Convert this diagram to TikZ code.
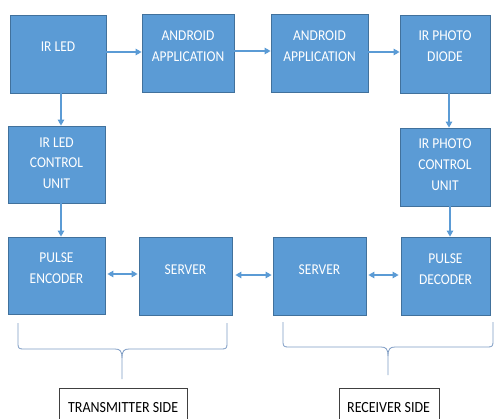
\documentclass[tikz,border=0pt]{standalone}
\usepackage{fontspec}
\setmainfont{Carlito}[FakeStretch=0.9]
\usetikzlibrary{arrows.meta}
\definecolor{boxblue}{HTML}{5B9BD5}
\definecolor{boxedge}{HTML}{41719C}
\definecolor{arrblue}{HTML}{5B9BD5}
\definecolor{bracecol}{RGB}{125,155,195}
\definecolor{lblgray}{HTML}{404040}
\tikzset{
  blk/.style={draw=boxedge, fill=boxblue, line width=0.8pt, inner sep=0pt},
  blktext/.style={text=white, align=center, inner sep=0pt, font=\fontsize{15}{20.7}\selectfont},
  arr/.style={draw=arrblue, line width=1.3pt, -{Triangle[length=6pt,width=6.5pt]}},
  darr/.style={draw=arrblue, line width=1.3pt, {Triangle[length=6pt,width=6.5pt]}-{Triangle[length=6pt,width=6.5pt]}},
  brc/.style={draw=bracecol, line width=0.8pt},
  sidetext/.style={text=black, anchor=west, inner sep=0pt, font=\fontsize{15.5}{18}\selectfont},
  sidebox/.style={draw=lblgray, line width=0.9pt}
}
\begin{document}
\begin{tikzpicture}[x=1pt,y=-1pt]
\useasboundingbox (0,0) rectangle (495,418);
\clip (0,0) rectangle (495,418);
% top row
\node[blk, minimum width=96pt, minimum height=78pt] (irled) at (58,54) {};
\node[blktext] (irledT) at (58,47) {IR LED};
\node[blk, minimum width=92pt, minimum height=78pt] (and1) at (188,53) {};
\node[blktext] (and1T) at (188,46) {ANDROID\\APPLICATION};
\node[blk, minimum width=97pt, minimum height=78pt] (and2) at (319.5,53) {};
\node[blktext] (and2T) at (319.5,46) {ANDROID\\APPLICATION};
\node[blk, minimum width=90pt, minimum height=78pt] (ipd) at (445,54) {};
\node[blktext] (ipdT) at (445,46.5) {IR PHOTO\\DIODE};
% middle row
\node[blk, minimum width=97pt, minimum height=77pt] (ilc) at (56.5,164.5) {};
\node[blktext] (ilcT) at (56.5,163) {IR LED\\CONTROL\\UNIT};
\node[blk, minimum width=90pt, minimum height=78pt] (ipc) at (445,167) {};
\node[blktext] (ipcT) at (445,164.5) {IR PHOTO\\CONTROL\\UNIT};
% bottom row
\node[blk, minimum width=97pt, minimum height=77pt] (pe) at (56.5,275.5) {};
\node[blktext] (peT) at (56.5,268) {PULSE\\ENCODER};
\node[blk, minimum width=93pt, minimum height=78pt] (s1) at (185.5,276) {};
\node[blktext] (s1T) at (185.5,270) {SERVER};
\node[blk, minimum width=93pt, minimum height=78pt] (s2) at (319.5,276) {};
\node[blktext] (s2T) at (319.5,270) {SERVER};
\node[blk, minimum width=89pt, minimum height=78pt] (pd) at (445.5,276) {};
\node[blktext] (pdT) at (445.5,269) {PULSE\\DECODER};
% arrows
\draw[arr] ([yshift=2pt]irled.east) -- ([yshift=2pt]and1.west |- irled.east);
\draw[arr] ([yshift=2pt]and1.east) -- ([yshift=2pt]and2.west |- and1.east);
\draw[arr] ([yshift=1pt]and2.east) -- ([yshift=1pt]ipd.west |- and2.east);
\draw[arr] ([xshift=3pt]irled.south) -- ([xshift=3pt]irled.south |- ilc.north);
\draw[arr] ([xshift=4.5pt]ilc.south) -- ([xshift=4.5pt]ilc.south |- pe.north);
\draw[arr] ([xshift=4pt]ipd.south) -- ([xshift=4pt]ipd.south |- ipc.north);
\draw[arr] ([xshift=5pt]ipc.south) -- ([xshift=5pt]ipc.south |- pd.north);
\draw[darr] ([xshift=2pt,yshift=1.5pt]pe.east) -- ([xshift=-1pt,yshift=2pt]s1.west);
\draw[darr] ([xshift=3pt,yshift=1pt]s1.east) -- ([xshift=-1pt,yshift=1pt]s2.west);
\draw[darr] ([xshift=2pt,yshift=1pt]s2.east) -- ([xshift=-2pt,yshift=1pt]pd.west);
% braces
\coordinate (btl) at (18,323);
\coordinate (btr) at (227,323);
\coordinate (btip) at (122,379);
\draw[brc] (btl) -- (18,344) .. controls (18,348) and (19,349) .. (23,349) -- (115,349)
  .. controls (120,349) and (122,351) .. (122,358) -- (btip);
\draw[brc] (btr) -- (227,344) .. controls (227,348) and (226,349) .. (222,349) -- (129,349)
  .. controls (124,349) and (122,351) .. (122,358);
\coordinate (brl) at (283,322);
\coordinate (brr) at (493,322);
\coordinate (brtip) at (388,375);
\draw[brc] (brl) -- (283,342) .. controls (283,346) and (284,347) .. (288,347) -- (381,347)
  .. controls (386,347) and (388,349) .. (388,356) -- (brtip);
\draw[brc] (brr) -- (493,342) .. controls (493,346) and (492,347) .. (488,347) -- (395,347)
  .. controls (390,347) and (388,349) .. (388,356);
% side labels
\coordinate (tx1) at (59,430);
\coordinate (tx2) at (59,388);
\coordinate (tx3) at (187,388);
\coordinate (tx4) at (187,430);
\draw[sidebox] (tx1) -- (tx2) -- (tx3) -- (tx4);
\node[sidetext] (txT) at (68,408) {TRANSMITTER SIDE};
\coordinate (rx1) at (339,430);
\coordinate (rx2) at (339,388);
\coordinate (rx3) at (439,388);
\coordinate (rx4) at (439,430);
\draw[sidebox] (rx1) -- (rx2) -- (rx3) -- (rx4);
\node[sidetext] (rxT) at (347,408) {RECEIVER SIDE};
\end{tikzpicture}
\end{document}
